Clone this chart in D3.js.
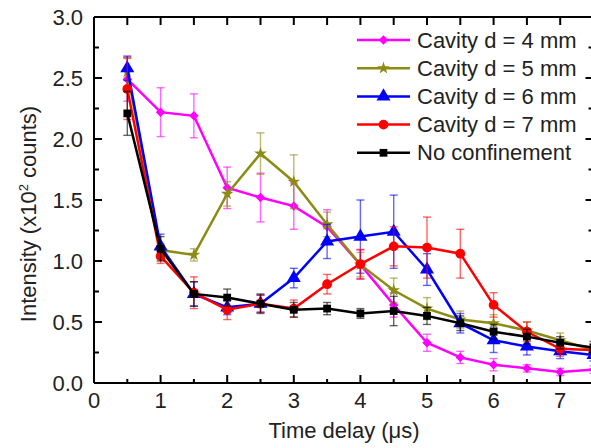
<!DOCTYPE html>
<meta charset="utf-8">
<head>
<style>
    body {margin: 0; background: #fff;}
    text {font-family: "Liberation Sans", Arial, sans-serif; fill: #222;}
</style>
</head>
<body>
<div class="chart"></div>
<script src="https://d3js.org/d3.v7.min.js"></script>
<script>
// time delay (us)
var delays = [0.5, 1, 1.5, 2, 2.5, 3, 3.5, 4, 4.5, 5, 5.5, 6, 6.5, 7, 7.5];

var names = ["Cavity d = 4 mm", "Cavity d = 5 mm", "Cavity d = 6 mm", "Cavity d = 7 mm", "No confinement"];

// intensity (x10^2 counts)
var cav4 = [2.49, 2.22, 2.19, 1.60, 1.52, 1.45, 1.28, 0.97, 0.64, 0.33, 0.21, 0.15, 0.12, 0.09, 0.11];
var cav5 = [2.55, 1.09, 1.05, 1.55, 1.88, 1.65, 1.30, 0.97, 0.76, 0.61, 0.52, 0.49, 0.43, 0.35, 0.27];
var cav6 = [2.58, 1.12, 0.73, 0.62, 0.65, 0.86, 1.16, 1.20, 1.24, 0.93, 0.49, 0.35, 0.30, 0.26, 0.23];
var cav7 = [2.41, 1.04, 0.74, 0.60, 0.65, 0.61, 0.81, 0.975, 1.12, 1.11, 1.06, 0.64, 0.42, 0.28, 0.27];
var noconf = [2.21, 1.10, 0.73, 0.70, 0.65, 0.60, 0.61, 0.57, 0.59, 0.55, 0.49, 0.42, 0.38, 0.33, 0.29];

// error bars (+/-)
var cav4Err = [0.18, 0.20, 0.18, 0.17, 0.20, 0.19, 0.14, 0.12, 0.10, 0.07, 0.05, 0.05, 0.03, 0.03, 0.03];
var cav5Err = [0.12, 0.05, 0.05, 0.10, 0.17, 0.22, 0.10, 0.10, 0.10, 0.09, 0.07, 0.07, 0.07, 0.06, 0.05];
var cav6Err = [0.10, 0.10, 0.10, 0.06, 0.07, 0.08, 0.14, 0.30, 0.30, 0.13, 0.08, 0.10, 0.07, 0.06, 0.05];
var cav7Err = [0.25, 0.06, 0.13, 0.08, 0.07, 0.07, 0.08, 0.12, 0.16, 0.25, 0.20, 0.10, 0.08, 0.06, 0.05];
var noconfErr = [0.18, 0.10, 0.10, 0.07, 0.08, 0.06, 0.05, 0.04, 0.12, 0.07, 0.06, 0.06, 0.06, 0.05, 0.05];

var xTicks = [0, 1, 2, 3, 4, 5, 6, 7];
var yTicks = [0.0, 0.5, 1.0, 1.5, 2.0, 2.5, 3.0];

var colors = ["#ff00ff", "#8c8c14", "#0000ff", "#ff0000", "#000000"];
var symbols = [d3.symbolSquare, d3.symbolStar, d3.symbolTriangle, d3.symbolCircle, d3.symbolSquare];
var symSize = [45, 50, 85, 75, 60];
var symRot = [45, 0, 0, 0, 0];

var width = 591, height = 448;

var x = d3.scaleLinear().domain([0, 7.5]).range([94, 593.5]);
var y = d3.scaleLinear().domain([0, 3]).range([383, 17]);

var svg = d3.select(".chart").append("svg")
    .attr("xmlns", "http://www.w3.org/2000/svg")
    .attr("width", width)
    .attr("height", height);

var series = [cav4, cav5, cav6, cav7, noconf].map(function (vals, i) {
    var errs = [cav4Err, cav5Err, cav6Err, cav7Err, noconfErr][i];
    return {
        name: names[i], color: colors[i], symbol: symbols[i], size: symSize[i], rot: symRot[i],
        points: vals.map(function (v, j) { return {x: delays[j], y: v, e: errs[j]}; })
    };
});

// plot
var line = d3.line().x(function (d) { return x(d.x); }).y(function (d) { return y(d.y); });

series.forEach(function (s) {
    var g = svg.append("g");
    var eb = g.selectAll(".err").data(s.points).enter().append("g")
        .attr("stroke", s.color).attr("stroke-opacity", 0.6).attr("stroke-width", 1.4);
    eb.append("line")
        .attr("x1", function (d) { return x(d.x); }).attr("x2", function (d) { return x(d.x); })
        .attr("y1", function (d) { return y(d.y - d.e); }).attr("y2", function (d) { return y(d.y + d.e); });
    eb.append("line")
        .attr("x1", function (d) { return x(d.x) - 4; }).attr("x2", function (d) { return x(d.x) + 4; })
        .attr("y1", function (d) { return y(d.y + d.e); }).attr("y2", function (d) { return y(d.y + d.e); });
    eb.append("line")
        .attr("x1", function (d) { return x(d.x) - 4; }).attr("x2", function (d) { return x(d.x) + 4; })
        .attr("y1", function (d) { return y(d.y - d.e); }).attr("y2", function (d) { return y(d.y - d.e); });

    g.append("path").datum(s.points)
        .attr("d", line)
        .attr("fill", "none")
        .attr("stroke", s.color)
        .attr("stroke-width", 2.5);

    g.selectAll(".pt").data(s.points).enter().append("path")
        .attr("transform", function (d) { return "translate(" + x(d.x) + "," + y(d.y) + ") rotate(" + s.rot + ")"; })
        .attr("d", d3.symbol().type(s.symbol).size(s.size))
        .attr("fill", s.color);
});

// frame and ticks
var frame = svg.append("g").attr("stroke", "#000").attr("stroke-width", 2);
frame.append("line").attr("x1", x(0)).attr("x2", x(7.5)).attr("y1", y(0)).attr("y2", y(0));
frame.append("line").attr("x1", x(0)).attr("x2", x(7.5)).attr("y1", y(3)).attr("y2", y(3));
frame.append("line").attr("x1", x(0)).attr("x2", x(0)).attr("y1", y(0)).attr("y2", y(3));
frame.append("line").attr("x1", x(7.5)).attr("x2", x(7.5)).attr("y1", y(0)).attr("y2", y(3));

var xAll = d3.range(0, 7.51, 0.5);
var yAll = d3.range(0, 3.01, 0.25);
xAll.forEach(function (v) {
    var major = Math.abs(v - Math.round(v)) < 1e-6;
    frame.append("line").attr("x1", x(v)).attr("x2", x(v))
        .attr("y1", y(0)).attr("y2", y(0) - (major ? 8 : 4));
    frame.append("line").attr("x1", x(v)).attr("x2", x(v))
        .attr("y1", y(3)).attr("y2", y(3) + 8);
});
yAll.forEach(function (v) {
    var major = Math.abs(v * 2 - Math.round(v * 2)) < 1e-6;
    frame.append("line").attr("x1", x(0)).attr("x2", x(0) + (major ? 8 : 5))
        .attr("y1", y(v)).attr("y2", y(v));
    frame.append("line").attr("x1", x(7.5)).attr("x2", x(7.5) - (major ? 8 : 5))
        .attr("y1", y(v)).attr("y2", y(v));
});

// tick labels
svg.append("g").selectAll("text").data(xTicks).enter().append("text")
    .attr("x", function (d) { return x(d); })
    .attr("y", 408)
    .attr("text-anchor", "middle")
    .style("font-size", "22px")
    .text(function (d) { return d; });

svg.append("g").selectAll("text").data(yTicks).enter().append("text")
    .attr("x", 83)
    .attr("y", function (d) { return y(d) + 7.5; })
    .attr("text-anchor", "end")
    .style("font-size", "22px")
    .text(function (d) { return d3.format(".1f")(d); });

// axis titles
svg.append("text")
    .attr("x", 344).attr("y", 438)
    .attr("text-anchor", "middle")
    .style("font-size", "22px")
    .text("Time delay (\u03bcs)");

var yt = svg.append("text")
    .attr("transform", "translate(36,214) rotate(-90)")
    .attr("text-anchor", "middle")
    .style("font-size", "22px");
yt.append("tspan").text("Intensity (x10");
yt.append("tspan").attr("dy", -8).style("font-size", "13px").text("2");
yt.append("tspan").attr("dy", 8).text(" counts)");

// legend
var leg = svg.append("g").selectAll("g").data(series).enter().append("g")
    .attr("transform", function (d, i) { return "translate(357," + (40 + i * 28.2) + ")"; });
leg.append("line").attr("x1", 0).attr("x2", 53).attr("y1", 0).attr("y2", 0)
    .attr("stroke", function (d) { return d.color; }).attr("stroke-width", 2.5);
leg.append("path").attr("transform", function (d) { return "translate(26.5,0) rotate(" + d.rot + ")"; })
    .attr("d", function (d) { return d3.symbol().type(d.symbol).size(d.size)(); })
    .attr("fill", function (d) { return d.color; });
leg.append("text").attr("x", 60).attr("y", 7.5)
    .style("font-size", "22px")
    .text(function (d) { return d.name; });
</script>
</body>
